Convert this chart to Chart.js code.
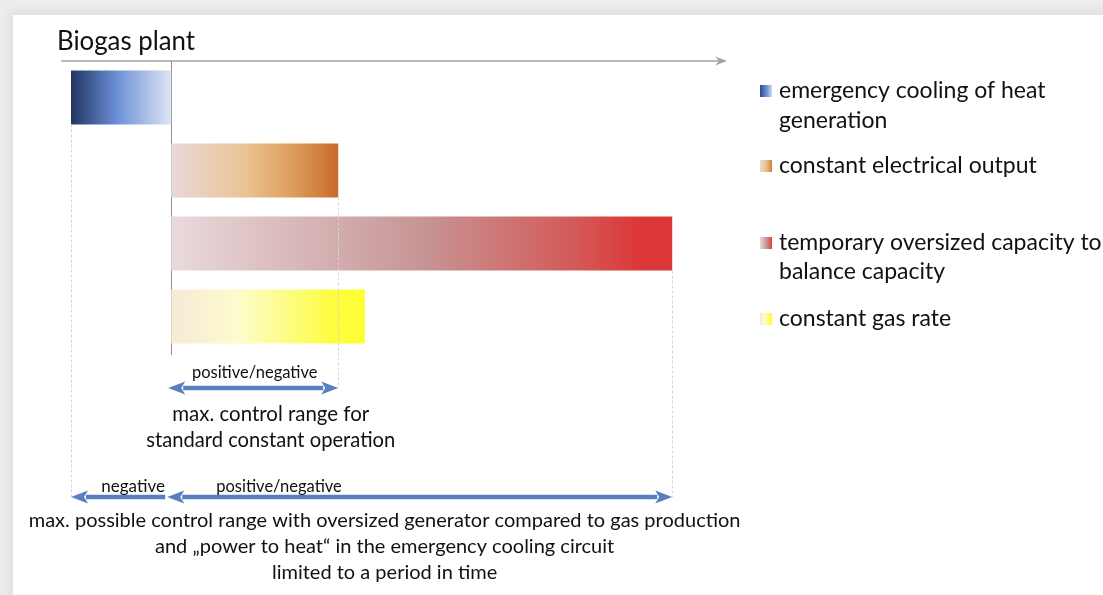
<!DOCTYPE html>
<html>
<head>
<meta charset="utf-8">
<script src="https://cdn.jsdelivr.net/npm/chart.js@4.4.1/dist/chart.umd.min.js"></script>
<style>
  html, body { margin: 0; padding: 0; width: 1103px; height: 595px; overflow: hidden; background: #ededed; }
  #card { position: absolute; left: 13px; top: 15px; width: 1120px; height: 620px; background: #fff; box-shadow: 0 0 12px 3px rgba(0,0,0,0.07); }
  #wrap { position: absolute; left: 0; top: 0; width: 1103px; height: 595px; }
</style>
</head>
<body>
<div id="card"></div>
<div id="wrap"><canvas id="chart" width="1103" height="595"></canvas></div>
<script>
// bars, top to bottom
const categories = ['emergency cooling of heat generation', 'constant electrical output', 'temporary oversized capacity to balance capacity', 'constant gas rate'];
const barStart = [-3, 0, 0, 0];
const barEnd = [0, 5, 15, 5.8];

// legend text, one entry per bar (wrapped like the original)
const legendLines = [
  ['emergency cooling of heat', 'generation'],
  ['constant electrical output'],
  ['temporary oversized capacity to', 'balance capacity'],
  ['constant gas rate']
];

const chartTitle = 'Biogas plant';
const standardLabel = 'positive/negative';
const standardText = ['max. control range for', 'standard constant operation'];
const negativeLabel = 'negative';
const possibleLabel = 'positive/negative';
const possibleText = [
  'max. possible control range with oversized generator compared to gas production',
  'and \u201Epower to heat\u201C in the emergency cooling circuit',
  'limited to a period in time'
];

// gradient stops for each bar (left -> right)
const barGradients = [
  [[0, '#22355f'], [0.45, '#6a8ed6'], [1, '#dfe6f5']],
  [[0, '#e8d9d9'], [0.45, '#ebc291'], [0.75, '#dc9a58'], [1, '#c8692a']],
  [[0, '#e9dadc'], [0.5, '#c79595'], [0.8, '#d35b59'], [0.93, '#dc3838'], [1, '#dd3636']],
  [[0, '#f7e9d8'], [0.35, '#fdfccc'], [0.85, '#fdfd3c'], [1, '#ffff33']]
];

const FONT = 'Lato, "Open Sans", sans-serif';
const ARROW = '#5b7ec1';

function makeGradient(ctx, x1, x2, stops) {
  const g = ctx.createLinearGradient(x1, 0, x2, 0);
  stops.forEach(s => g.addColorStop(s[0], s[1]));
  return g;
}

function arrow(ctx, x1, x2, y, headLeft, headRight) {
  const len = 17, half = 6.5, w = 4.5;
  ctx.save();
  ctx.fillStyle = ARROW;
  const a = headLeft ? x1 + len - 2 : x1;
  const b = headRight ? x2 - len + 2 : x2;
  ctx.fillRect(a, y - w / 2, b - a, w);
  if (headLeft) {
    ctx.beginPath();
    ctx.moveTo(x1, y);
    ctx.lineTo(x1 + len, y - half);
    ctx.lineTo(x1 + len - 4, y);
    ctx.lineTo(x1 + len, y + half);
    ctx.closePath();
    ctx.fill();
  }
  if (headRight) {
    ctx.beginPath();
    ctx.moveTo(x2, y);
    ctx.lineTo(x2 - len, y - half);
    ctx.lineTo(x2 - len + 4, y);
    ctx.lineTo(x2 - len, y + half);
    ctx.closePath();
    ctx.fill();
  }
  ctx.restore();
}

function vdash(ctx, x, y1, y2) {
  ctx.save();
  ctx.strokeStyle = '#d6d6d6';
  ctx.lineWidth = 1;
  ctx.setLineDash([3, 2]);
  ctx.beginPath();
  ctx.moveTo(Math.round(x) + 0.5, y1);
  ctx.lineTo(Math.round(x) + 0.5, y2);
  ctx.stroke();
  ctx.restore();
}

function text(ctx, str, x, y, size, align, maxW) {
  ctx.font = size + 'px ' + FONT;
  ctx.textAlign = align || 'center';
  ctx.textBaseline = 'middle';
  ctx.fillStyle = '#111';
  if (maxW) ctx.fillText(str, x, y, maxW); else ctx.fillText(str, x, y);
}

const overlay = {
  id: 'overlay',
  beforeDatasetsDraw(chart) {
    const { ctx, chartArea, scales: { x } } = chart;
    const x0 = x.getPixelForValue(0);
    ctx.save();
    // time axis with arrow head
    ctx.strokeStyle = '#a3a3a3';
    ctx.lineWidth = 1.5;
    ctx.beginPath();
    ctx.moveTo(chartArea.left, chartArea.top);
    ctx.lineTo(chartArea.right - 4, chartArea.top);
    ctx.stroke();
    ctx.fillStyle = '#a3a3a3';
    ctx.beginPath();
    ctx.moveTo(chartArea.right - 2, chartArea.top);
    ctx.lineTo(chartArea.right - 14, chartArea.top - 4.5);
    ctx.lineTo(chartArea.right - 10, chartArea.top);
    ctx.lineTo(chartArea.right - 14, chartArea.top + 4.5);
    ctx.closePath();
    ctx.fill();
    // zero line
    ctx.strokeStyle = '#8f8f8f';
    ctx.lineWidth = 1;
    ctx.beginPath();
    ctx.moveTo(Math.round(x0) + 0.5, chartArea.top);
    ctx.lineTo(Math.round(x0) + 0.5, chartArea.bottom + 2);
    ctx.stroke();
    ctx.restore();
  },
  afterDatasetsDraw(chart) {
    const { ctx, chartArea, scales: { x } } = chart;
    const meta = chart.getDatasetMeta(0);
    const x0 = x.getPixelForValue(0);
    const xNeg = x.getPixelForValue(barStart[0]);
    const xStd = x.getPixelForValue(barEnd[1]);
    const xMax = x.getPixelForValue(barEnd[2]);
    const bottom = i => meta.data[i].y + meta.data[i].height / 2;

    const yStd = 388, yMax = 497;
    // guide lines
    vdash(ctx, xNeg, bottom(0), yMax);
    vdash(ctx, xStd, bottom(1), yStd);
    vdash(ctx, xMax, bottom(2), yMax);

    // title
    ctx.font = '26px ' + FONT;
    ctx.textAlign = 'left';
    ctx.textBaseline = 'alphabetic';
    ctx.fillStyle = '#111';
    ctx.fillText(chartTitle, chartArea.left - 4, 50, 138);

    // standard range arrow
    arrow(ctx, x0 - 3, xStd, yStd, true, true);
    text(ctx, standardLabel, (x0 + xStd) / 2, 373, 16.5, 'center', 127);
    text(ctx, standardText[0], (x0 + xStd) / 2 + 16, 414, 20.5, 'center', 197);
    text(ctx, standardText[1], (x0 + xStd) / 2 + 16, 440, 20.5, 'center', 249);

    // max possible range arrows
    arrow(ctx, xNeg, x0 - 6, yMax, true, false);
    arrow(ctx, x0 - 4, xMax, yMax, true, true);
    text(ctx, negativeLabel, (xNeg + x0) / 2 + 12, 487, 17, 'center', 65);
    text(ctx, possibleLabel, x0 + 45, 487, 16.5, 'left', 127);
    const cx = (xNeg + xMax) / 2 + 13;
    text(ctx, possibleText[0], cx, 521, 20, 'center', 719);
    text(ctx, possibleText[1], cx, 547, 20, 'center', 471);
    text(ctx, possibleText[2], cx, 573, 20, 'center', 231);

    // legend
    const legendY = [[91, 121], [166], [243, 272], [319]];
    legendLines.forEach((lines, i) => {
      const sy = legendY[i][0];
      ctx.fillStyle = makeGradient(ctx, 760, 773, barGradients[i]);
      if (i === 0) ctx.fillStyle = makeGradient(ctx, 760, 773, [[0, '#2f4a85'], [0.5, '#6a8ed6'], [1, '#dfe6f5']]);
      ctx.fillRect(760, sy - 6, 12, 12);
      lines.forEach((ln, j) => text(ctx, ln, 779, legendY[i][j], 23, 'left'));
    });
  }
};

new Chart(document.getElementById('chart'), {
  type: 'bar',
  data: {
    labels: categories,
    datasets: [{
      data: barStart.map((s, i) => [s, barEnd[i]]),
      borderWidth: 0,
      borderSkipped: false,
      backgroundColor: (c) => {
        const { chart, dataIndex } = c;
        if (!chart.chartArea) return '#ccc';
        const xs = chart.scales.x;
        return makeGradient(chart.ctx, xs.getPixelForValue(barStart[dataIndex]), xs.getPixelForValue(barEnd[dataIndex]), barGradients[dataIndex]);
      }
    }]
  },
  options: {
    indexAxis: 'y',
    responsive: false,
    animation: false,
    barPercentage: 0.74,
    categoryPercentage: 1,
    layout: { padding: { left: 61, right: 374, top: 61, bottom: 242 } },
    scales: {
      x: { type: 'linear', min: -3.3, max: 16.7, display: false },
      y: { display: false }
    },
    plugins: { legend: { display: false }, tooltip: { enabled: false }, title: { display: false } }
  },
  plugins: [overlay]
});
</script>
</body>
</html>
